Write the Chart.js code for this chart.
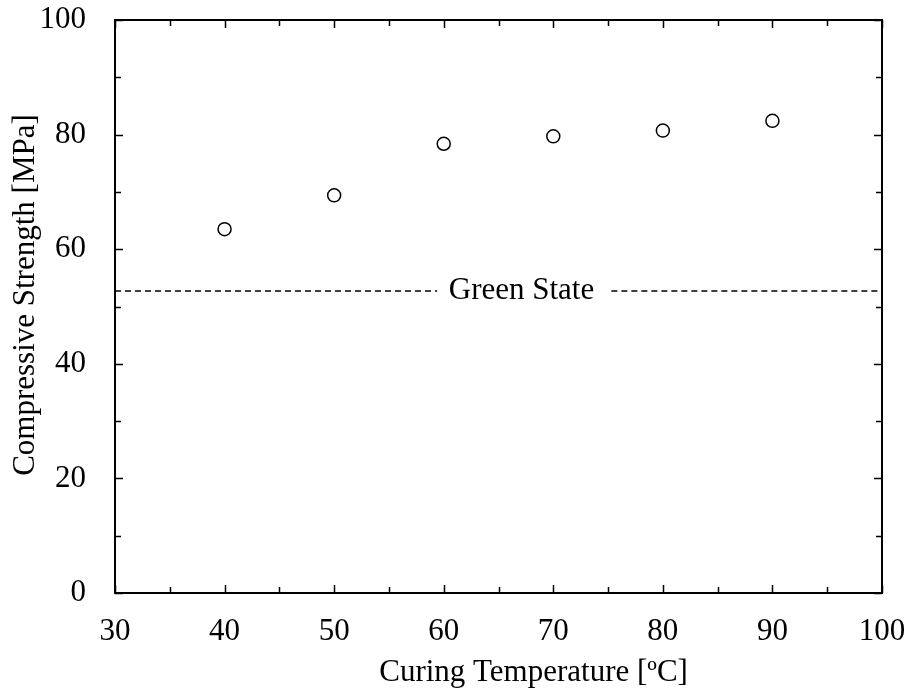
<!DOCTYPE html>
<html><head><meta charset="utf-8">
<script src="https://cdn.jsdelivr.net/npm/chart.js@4"></script>
<style>html,body{margin:0;padding:0;background:#fff}#wrap{width:910px;height:692px}</style>
</head><body><div id="wrap"><canvas id="c" width="910" height="692"></canvas></div>
<script>
const temperatures = [40, 50, 60, 70, 80, 90];
const strengths = [63.5, 69.4, 78.4, 79.7, 80.7, 82.4];
const greenState = 52.7;
const greenLabel = 'Green State';
const greenGapStart = 59.4, greenGapEnd = 75.3, greenLabelX = 67.1;
const xTitle = 'Curing Temperature [ºC]';
const yTitle = 'Compressive Strength [MPa]';
const FONT = '"Liberation Serif", "Times New Roman", serif';
const FS = 31;

const frame = {
  id: 'frame',
  afterDatasetsDraw(chart) {
    const {ctx, chartArea: a, scales: {x, y}} = chart;
    ctx.save();
    ctx.strokeStyle = '#000';
    ctx.lineWidth = 1.5;
    for (let v = 30; v <= 100; v += 5) {
      const px = Math.round(x.getPixelForValue(v)) + 0.5;
      const len = v % 10 === 0 ? 8 : 6;
      ctx.beginPath();
      ctx.moveTo(px, a.bottom); ctx.lineTo(px, a.bottom - len);
      ctx.moveTo(px, a.top); ctx.lineTo(px, a.top + len);
      ctx.stroke();
    }
    for (let v = 0; v <= 100; v += 10) {
      const py = Math.round(y.getPixelForValue(v)) + 0.5;
      const len = v % 20 === 0 ? 8 : 6;
      ctx.beginPath();
      ctx.moveTo(a.left, py); ctx.lineTo(a.left + len, py);
      ctx.moveTo(a.right, py); ctx.lineTo(a.right - len, py);
      ctx.stroke();
    }
    ctx.lineWidth = 2;
    ctx.strokeRect(a.left, a.top, a.right - a.left, a.bottom - a.top);
    ctx.fillStyle = '#000';
    ctx.font = FS + 'px ' + FONT;
    ctx.textAlign = 'center';
    ctx.textBaseline = 'middle';
    ctx.fillText(greenLabel, x.getPixelForValue(greenLabelX), y.getPixelForValue(greenState));
    // axis titles
    ctx.fillText(xTitle, x.getPixelForValue(68.2), 673);
    ctx.translate(26, y.getPixelForValue(52.0));
    ctx.rotate(-Math.PI / 2);
    ctx.fillText(yTitle, 0, 0);
    ctx.restore();
  }
};

new Chart(document.getElementById('c'), {
  type: 'scatter',
  data: {
    datasets: [
      {
        data: temperatures.map((t, i) => ({x: t, y: strengths[i]})),
        pointStyle: 'circle', pointRadius: 6.5, pointBorderWidth: 1.5,
        pointBorderColor: '#000', pointBackgroundColor: '#fff', showLine: false
      },
      {
        data: [{x: 30, y: greenState}, {x: greenGapStart, y: greenState}, {x: greenLabelX, y: null},
               {x: greenGapEnd, y: greenState}, {x: 100, y: greenState}],
        showLine: true, spanGaps: false, pointRadius: 0, borderColor: '#000',
        borderWidth: 1.5, borderDash: [6, 4]
      }
    ]
  },
  options: {
    responsive: false, animation: false,
    layout: {padding: {top: 20, right: 28, left: 0, bottom: 0}},
    plugins: {legend: {display: false}, tooltip: {enabled: false}},
    scales: {
      x: {
        type: 'linear', min: 30, max: 100,
        grid: {display: false}, border: {display: false},
        ticks: {stepSize: 10, color: '#000', font: {family: FONT, size: FS}, padding: 12},
        title: {display: false},
        afterFit(s) { s.height = 99; s.paddingLeft = 0; s.paddingRight = 0; }
      },
      y: {
        type: 'linear', min: 0, max: 100,
        grid: {display: false}, border: {display: false},
        ticks: {stepSize: 20, color: '#000', font: {family: FONT, size: FS}, padding: 21},
        title: {display: false},
        afterFit(s) { s.width = 115; s.paddingTop = 0; s.paddingBottom = 0; }
      }
    }
  },
  plugins: [frame]
});
</script></body></html>
